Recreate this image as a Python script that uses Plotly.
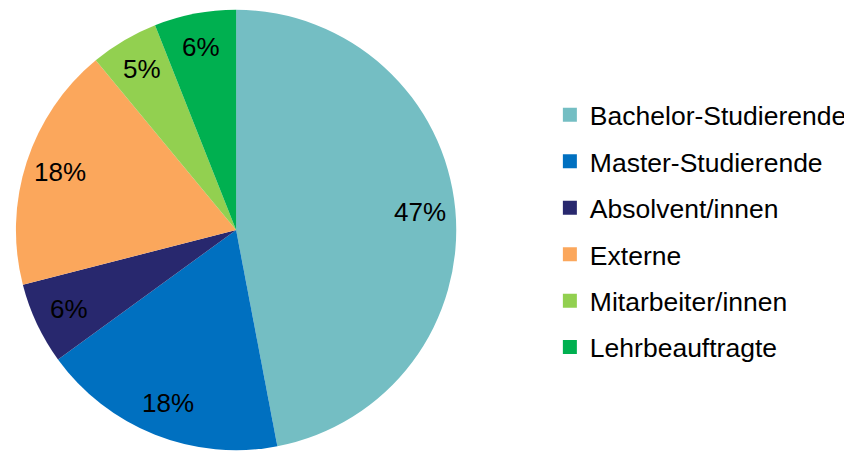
import math
import plotly.graph_objects as go

categories = ["Bachelor-Studierende", "Master-Studierende", "Absolvent/innen",
              "Externe", "Mitarbeiter/innen", "Lehrbeauftragte"]
values = [47, 18, 6, 18, 5, 6]
colors = ["#74BEC3", "#0070C0", "#28286E", "#FBA75C", "#92D050", "#00B050"]

FONT = "Liberation Sans, Arial, sans-serif"
W, H = 844, 444
DOM_X = [0.00948, 0.53555]
DOM_Y = [0.0, 1.0]
LABEL_R = 0.84  # label distance as a fraction of the pie radius

fig = go.Figure()
fig.add_trace(go.Pie(
    labels=categories, values=values, sort=False, direction="clockwise",
    rotation=0, marker=dict(colors=colors, line=dict(width=0)),
    textinfo="none", showlegend=False, hoverinfo="label+percent",
    domain=dict(x=DOM_X, y=DOM_Y),
))

# percentage labels placed along each slice bisector (derived from the values)
cx = (DOM_X[0] + DOM_X[1]) / 2 * W
cy = (DOM_Y[0] + DOM_Y[1]) / 2 * H
radius = min((DOM_X[1] - DOM_X[0]) * W, (DOM_Y[1] - DOM_Y[0]) * H) / 2
total = sum(values)
cum = 0
for v in values:
    mid = (cum + v / 2) / total
    cum += v
    ang = 2 * math.pi * mid
    px = cx + LABEL_R * radius * math.sin(ang)
    py = cy + LABEL_R * radius * math.cos(ang)
    fig.add_annotation(
        x=px / W, y=py / H, xref="paper", yref="paper",
        text=f"{v / total * 100:.0f}%", showarrow=False,
        xanchor="center", yanchor="middle",
        font=dict(size=26, color="black", family=FONT),
    )

for name, col in zip(categories, colors):
    fig.add_trace(go.Scatter(
        x=[None], y=[None], mode="markers", name=name, legendgroup=name,
        marker=dict(symbol="square", size=14, color=col),
    ))

fig.update_layout(
    width=W, height=H,
    margin=dict(l=0, r=0, t=0, b=0),
    paper_bgcolor="white", plot_bgcolor="white",
    font=dict(family=FONT, color="black"),
    xaxis=dict(visible=False), yaxis=dict(visible=False),
    legend=dict(x=0.6474, y=0.4975, xanchor="left", yanchor="middle",
                font=dict(size=26.5, color="black", family=FONT),
                tracegroupgap=9, itemclick=False),
)

fig.write_html("out.html")
